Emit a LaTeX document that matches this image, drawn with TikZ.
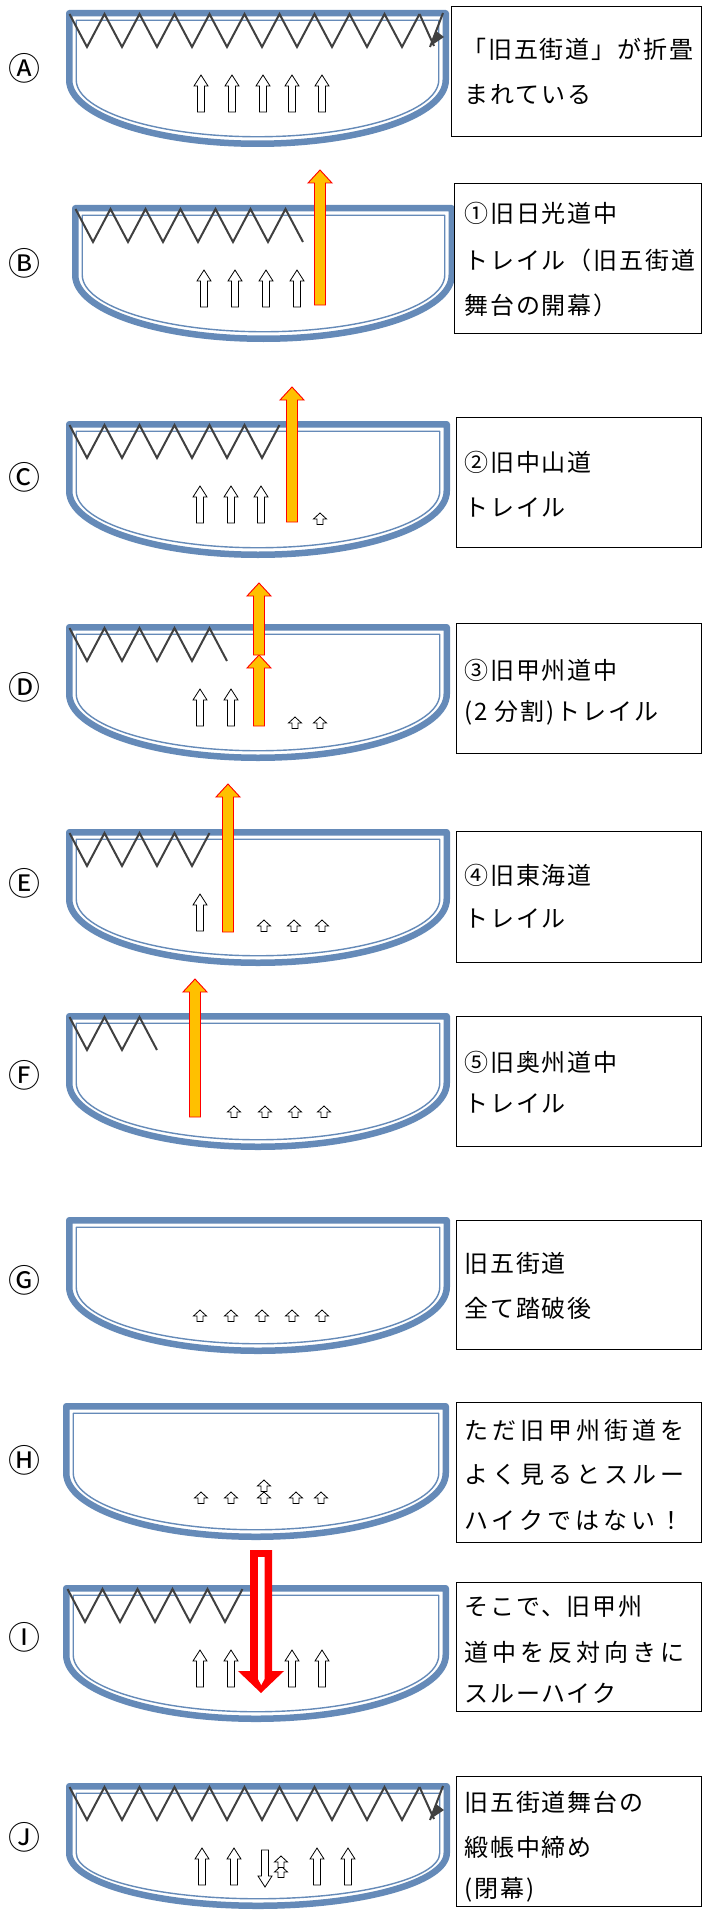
\documentclass[tikz,border=0pt]{standalone}
\usepackage{fontspec}
\newfontfamily\jp{Noto Sans CJK JP}
\newfontfamily\jpa[LetterSpace=8]{Noto Sans CJK JP}
\newfontfamily\jpb[LetterSpace=17]{Noto Sans CJK JP}
\definecolor{bowlblue}{HTML}{658AB8}
\definecolor{zigc}{HTML}{404040}
\definecolor{gold}{HTML}{FFC000}
\tikzset{
  bowlout/.style={draw=bowlblue, line width=6.5pt, line join=round},
  bowlin/.style={draw=bowlblue, line width=1.4pt, line join=round},
  zig/.style={draw=zigc, line width=2pt, line join=miter},
  wa/.style={draw=black, fill=white, line width=0.8pt, line join=miter},
  oa/.style={draw=red, fill=gold, line width=0.9pt, line join=miter},
  tbox/.style={draw=black, fill=white, line width=1.3pt, anchor=north west, inner sep=0pt},
  txt/.style={anchor=west, inner sep=0pt, font=\fontsize{24}{28}\jpa},
  txtw/.style={anchor=west, inner sep=0pt, font=\fontsize{24}{28}\jpb},
  lab/.style={inner sep=0pt, font=\fontsize{32}{36}\jp},
}
% bowl: L R T B S
\newcommand{\drawbowl}[5]{%
  \pgfmathsetmacro{\bwl}{#1+3.25}%
  \pgfmathsetmacro{\bwr}{#2-3.25}%
  \pgfmathsetmacro{\bwt}{#3+3.25}%
  \pgfmathsetmacro{\bwb}{#4-3.25}%
  \pgfmathsetmacro{\bws}{#3+#5}%
  \pgfmathsetmacro{\bwcx}{(\bwl+\bwr)/2}%
  \pgfmathsetmacro{\bwka}{0.5523*(\bwr-\bwl)/2}%
  \pgfmathsetmacro{\bwkb}{0.5523*(\bwb-\bws)}%
  \draw[bowlout] (\bwl,\bws) -- (\bwl,\bwt) -- (\bwr,\bwt) -- (\bwr,\bws)
     .. controls (\bwr,\bws+\bwkb) and (\bwcx+\bwka,\bwb) .. (\bwcx,\bwb)
     .. controls (\bwcx-\bwka,\bwb) and (\bwl,\bws+\bwkb) .. (\bwl,\bws) -- cycle;
  \pgfmathsetmacro{\bil}{\bwl+7}%
  \pgfmathsetmacro{\bir}{\bwr-7}%
  \pgfmathsetmacro{\bit}{\bwt+7}%
  \pgfmathsetmacro{\bib}{\bwb-7}%
  \pgfmathsetmacro{\bika}{0.5523*(\bir-\bil)/2}%
  \pgfmathsetmacro{\bikb}{0.5523*(\bib-\bws)}%
  \draw[bowlin] (\bil,\bws) -- (\bil,\bit) -- (\bir,\bit) -- (\bir,\bws)
     .. controls (\bir,\bws+\bikb) and (\bwcx+\bika,\bib) .. (\bwcx,\bib)
     .. controls (\bwcx-\bika,\bib) and (\bil,\bws+\bikb) .. (\bil,\bws) -- cycle;
}
% zigzag: x0 n T
\newcommand{\zz}[3]{\draw[zig] (#1,#3+4) \foreach \k in {1,...,#2} { -- ({#1+17.5*\k},{#3+4+33*mod(\k,2)}) };}
% folded end of the zigzag: T
\newcommand{\zzend}[1]{%
  \draw[zig] (419.5,#1+4) -- (434,#1+36);
  \draw[zig] (443,#1+3) -- (430,#1+37);
  \fill[zigc] (432,#1+35) -- (436,#1+21) -- (444,#1+27) -- cycle;}
% block arrow up: style x ytip ybottom shaftw headw headh
\newcommand{\blkup}[7]{\draw[#1] ({#2-#5/2},{#4}) -- ({#2-#5/2},{#3+#7}) -- ({#2-#6/2},{#3+#7}) -- (#2,{#3}) -- ({#2+#6/2},{#3+#7}) -- ({#2+#5/2},{#3+#7}) -- ({#2+#5/2},{#4}) -- cycle;}
\newcommand{\blkdown}[7]{\draw[#1] ({#2-#5/2},{#3}) -- ({#2-#5/2},{#4-#7}) -- ({#2-#6/2},{#4-#7}) -- (#2,{#4}) -- ({#2+#6/2},{#4-#7}) -- ({#2+#5/2},{#4-#7}) -- ({#2+#5/2},{#3}) -- cycle;}
\newcommand{\tallup}[2]{\blkup{wa}{#1}{#2+65}{#2+102}{7}{14}{11}}
\newcommand{\smallup}[2]{\blkup{wa}{#1}{#2}{#2+11.5}{6}{13}{6}}
\newcommand{\orup}[3]{\blkup{oa}{#1}{#2}{#3}{11}{24}{13}}
\begin{document}
\begin{tikzpicture}[x=1pt,y=-1pt]
\path[use as bounding box] (0,0) rectangle (714,1910);
\fill[white] (0,0) rectangle (714,1910);

% ---------- A
\drawbowl{66}{449}{10}{147}{70}
\zz{69.5}{20}{10}
\zzend{10}
\foreach \xx in {201,232,263,292,322} {\tallup{\xx}{10}}
\node[tbox, minimum width=250, minimum height=130] (boxA) at (451,6) {};
\node[txt] (a1) at (462,49) {「旧五街道」が折畳};
\node[txt] (a2) at (464,95) {まれている};
\node[lab] (la) at (25,68) {Ⓐ};

% ---------- B
\drawbowl{72}{455}{205}{342}{70}
\zz{75.5}{13}{205}
\foreach \xx in {204,235,266,297} {\tallup{\xx}{205}}
\orup{320}{170}{305}
\node[tbox, minimum width=247, minimum height=150] (boxB) at (454,183) {};
\node[txt] (b1) at (464,213) {①旧日光道中};
\node[txt] (b2) at (464,260) {トレイル（旧五街道};
\node[txt] (b3) at (464,305) {舞台の開幕）};
\node[lab] (lb) at (25,263) {Ⓑ};

% ---------- C
\drawbowl{66}{450}{421}{558}{70}
\zz{69.5}{12}{421}
\foreach \xx in {200,231,261} {\tallup{\xx}{421}}
\orup{292}{387}{522}
\smallup{320}{513}
\node[tbox, minimum width=245, minimum height=130] (boxC) at (456,417) {};
\node[txt] (c1) at (464,462) {②旧中山道};
\node[txt] (c2) at (464,507) {トレイル};
\node[lab] (lc) at (25,477) {Ⓒ};

% ---------- D
\drawbowl{66}{450}{624}{761}{70}
\zz{69.5}{9}{624}
\foreach \xx in {200,231} {\tallup{\xx}{624}}
\orup{259}{655}{726}
\orup{259}{583}{655}
\smallup{295}{717}
\smallup{320}{717}
\node[tbox, minimum width=245, minimum height=130] (boxD) at (456,623) {};
\node[txt] (d1) at (464,670) {③旧甲州道中};
\node[txt] (d2) at (464,713) {(2 分割)トレイル};
\node[lab] (ld) at (25,687) {Ⓓ};

% ---------- E
\drawbowl{66}{450}{829}{966}{70}
\zz{69.5}{8}{829}
\tallup{200}{829}
\orup{228}{784}{932}
\foreach \xx in {264,294,322} {\smallup{\xx}{920}}
\node[tbox, minimum width=245, minimum height=131] (boxE) at (456,831) {};
\node[txt] (e1) at (464,875) {④旧東海道};
\node[txt] (e2) at (464,918) {トレイル};
\node[lab] (le) at (25,883) {Ⓔ};

% ---------- F
\drawbowl{66}{450}{1013}{1150}{70}
\zz{69.5}{5}{1013}
\orup{195}{979}{1117}
\foreach \xx in {234,265,295,324} {\smallup{\xx}{1106}}
\node[tbox, minimum width=245, minimum height=130] (boxF) at (456,1016) {};
\node[txt] (f1) at (464,1062) {⑤旧奥州道中};
\node[txt] (f2) at (464,1103) {トレイル};
\node[lab] (lf) at (25,1075) {Ⓕ};

% ---------- G
\drawbowl{66}{450}{1217}{1354}{70}
\foreach \xx in {200,231,262,292,322} {\smallup{\xx}{1310}}
\node[tbox, minimum width=245, minimum height=129] (boxG) at (456,1220) {};
\node[txt] (g1) at (464,1263) {旧五街道};
\node[txt] (g2) at (464,1308) {全て踏破後};
\node[lab] (lg) at (25,1280) {Ⓖ};

% ---------- H
\drawbowl{63}{449}{1403}{1540}{70}
\foreach \xx in {201,231,264,296,321} {\smallup{\xx}{1492}}
\smallup{264}{1480}
\node[tbox, minimum width=245, minimum height=140] (boxH) at (456,1402) {};
\node[txtw] (h1) at (464,1430) {ただ旧甲州街道を};
\node[txtw] (h2) at (464,1475) {よく見るとスルー};
\node[txtw] (h3) at (464,1520) {ハイクではない！};
\node[lab] (lh) at (25,1460) {Ⓗ};

% ---------- I
\drawbowl{63}{449}{1585}{1722}{70}
\zz{67.5}{10}{1585}
\foreach \xx in {200,231,292,322} {\tallup{\xx}{1585}}
\fill[red] (250,1550) -- (272,1550) -- (272,1671) -- (284,1671) -- (261,1693) -- (238,1671) -- (250,1671) -- cycle;
\fill[white] (258,1557) -- (264.5,1557) -- (264.5,1679) -- (261.25,1685) -- (258,1679) -- cycle;
\node[tbox, minimum width=245, minimum height=129] (boxI) at (456,1582) {};
\node[txt] (i1) at (464,1607) {そこで、旧甲州};
\node[txtw] (i2) at (464,1652) {道中を反対向きに};
\node[txt] (i3) at (464,1693) {スルーハイク};
\node[lab] (li) at (25,1637) {Ⓘ};

% ---------- J
\drawbowl{66}{450}{1783}{1909}{70}
\zz{69.5}{20}{1783}
\zzend{1783}
\foreach \xx in {202,234,317,348} {\tallup{\xx}{1783}}
\blkdown{wa}{265}{1850}{1887}{7}{14}{11}
\smallup{281}{1866}
\smallup{281}{1856}
\node[tbox, minimum width=245, minimum height=130] (boxJ) at (456,1776) {};
\node[txt] (j1) at (464,1802) {旧五街道舞台の};
\node[txt] (j2) at (464,1847) {緞帳中締め};
\node[txt] (j3) at (464,1890) {(閉幕)};
\node[lab] (lj) at (25,1837) {Ⓙ};
\end{tikzpicture}
\end{document}
